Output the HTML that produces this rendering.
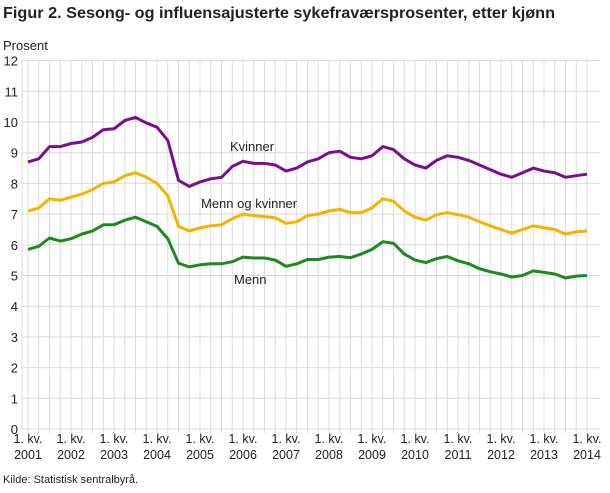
<!DOCTYPE html>
<html><head><meta charset="utf-8"><style>
body{margin:0;background:#fff;width:610px;height:488px;overflow:hidden;font-family:"Liberation Sans",sans-serif;}
</style></head><body>
<svg id="s" width="610" height="488" xmlns="http://www.w3.org/2000/svg" font-family="Liberation Sans, sans-serif">
<text x="3" y="18" font-size="15.5" fill="#222" font-weight="bold" textLength="552" lengthAdjust="spacingAndGlyphs">Figur 2. Sesong- og influensajusterte sykefraværsprosenter, etter kjønn</text>
<text x="3" y="50" font-size="13" fill="#222">Prosent</text>
<g id="grid" stroke="#dcdcdc" stroke-width="1"></g>
<g font-size="13" fill="#222" text-anchor="end" id="yl"></g>
<g font-size="12.5" fill="#222" text-anchor="middle" id="xl"></g>
<g id="lines" fill="none" stroke-width="3" stroke-linejoin="round"></g>
<text x="230" y="151" font-size="13" fill="#222">Kvinner</text>
<text x="201" y="208" font-size="13" fill="#222">Menn og kvinner</text>
<text x="234" y="284" font-size="13" fill="#222">Menn</text>
<text x="3" y="483" font-size="11" fill="#222">Kilde: Statistisk sentralbyrå.</text>
</svg>
<script>
var X0=28,DX=10.75,Y0=429,DY=30.7,ns="http://www.w3.org/2000/svg";
function el(t,a,p,txt){var e=document.createElementNS(ns,t);for(var k in a)e.setAttribute(k,a[k]);if(txt!=null)e.textContent=txt;document.getElementById(p).appendChild(e);}
for(var i=0;i<=12;i++){var y=Y0-i*DY;el("line",{x1:22,x2:600,y1:y,y2:y},"grid");el("text",{x:18,y:y+5},"yl",""+i);}
for(var q=0;q<53;q++){var x=X0+q*DX;el("line",{x1:x,x2:x,y1:Y0-12*DY,y2:Y0+4},"grid");}
el("line",{x1:22,x2:22,y1:Y0-12*DY,y2:Y0},"grid");
for(var yr=0;yr<14;yr++){var x=X0+yr*4*DX;el("text",{x:x,y:443},"xl","1. kv.");el("text",{x:x,y:459},"xl",""+(2001+yr));}
var K=[8.7,8.8,9.2,9.2,9.3,9.35,9.5,9.75,9.78,10.05,10.15,9.97,9.83,9.4,8.1,7.9,8.05,8.15,8.2,8.55,8.72,8.65,8.65,8.6,8.4,8.5,8.7,8.8,9.0,9.05,8.85,8.8,8.9,9.2,9.1,8.8,8.6,8.5,8.75,8.9,8.85,8.75,8.6,8.45,8.3,8.2,8.35,8.5,8.4,8.35,8.2,8.25,8.3];
var A=[7.1,7.2,7.5,7.45,7.55,7.65,7.8,8.0,8.05,8.25,8.35,8.2,8.0,7.6,6.6,6.45,6.55,6.62,6.65,6.85,7.0,6.95,6.92,6.88,6.7,6.75,6.95,7.0,7.1,7.15,7.05,7.05,7.2,7.5,7.42,7.1,6.9,6.8,6.98,7.05,6.98,6.9,6.75,6.62,6.5,6.38,6.5,6.62,6.55,6.5,6.35,6.42,6.45];
var M=[5.85,5.95,6.22,6.12,6.2,6.35,6.45,6.65,6.65,6.8,6.9,6.75,6.6,6.2,5.4,5.28,5.35,5.38,5.38,5.45,5.6,5.57,5.57,5.5,5.3,5.38,5.52,5.52,5.6,5.62,5.58,5.7,5.85,6.1,6.05,5.7,5.5,5.42,5.55,5.62,5.48,5.38,5.22,5.12,5.05,4.95,5.0,5.15,5.1,5.05,4.92,4.98,5.0];
[[M,"#1c8a1c"],[A,"#f5b300"],[K,"#7a0e8c"]].forEach(function(s){var p=s[0].map(function(v,i){return (X0+i*DX).toFixed(1)+","+(Y0-v*DY).toFixed(1)}).join(" ");el("polyline",{points:p,stroke:s[1]},"lines");});
</script>
</body></html>
